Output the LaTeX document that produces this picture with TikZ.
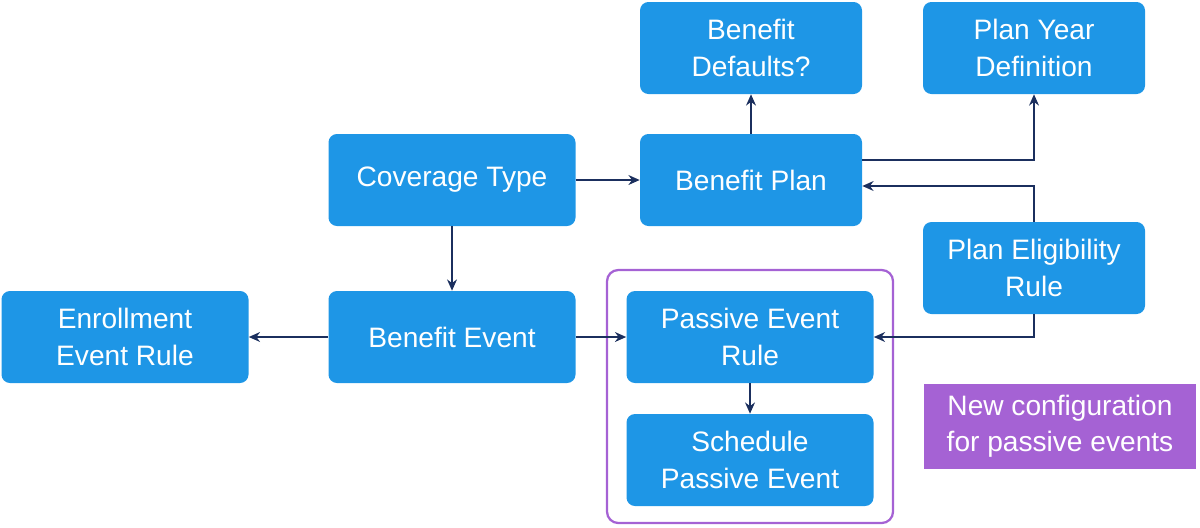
\documentclass[tikz,border=0pt]{standalone}
\usepackage{fontspec}
\setmainfont{Liberation Sans}
\usetikzlibrary{arrows.meta}
\definecolor{bx}{HTML}{1E96E6}
\definecolor{pu}{HTML}{A562D4}
\definecolor{ar}{HTML}{1B2F5E}
\begin{document}
\begin{tikzpicture}[x=0.025cm,y=-0.025cm,
 box/.style={fill=bx,rounded corners=6pt,text=white,align=center,font=\fontsize{20}{26}\selectfont,minimum height=92*0.025cm},
 sb/.style={box,minimum width=222*0.025cm},
 lb/.style={box,minimum width=247*0.025cm},
 a/.style={draw=ar,line width=1.6pt,-{Stealth[length=8pt,width=7pt]}}]
\useasboundingbox (0,0) rectangle (1200,527);
\node[sb] (bd) at (751,48) {Benefit\\Defaults?};
\node[sb] (py) at (1034,48) {Plan Year\\Definition};
\node[lb] (ct) at (452,180) {Coverage Type};
\node[sb] (bp) at (751,180) {Benefit Plan};
\node[sb] (pe) at (1034,268) {Plan Eligibility\\Rule};
\node[lb] (er) at (125,337) {Enrollment\\Event Rule};
\node[lb] (be) at (452,337) {Benefit Event};
\node[lb] (pr) at (750,337) {Passive Event\\Rule};
\node[lb] (sp) at (750,460) {Schedule\\Passive Event};
\node[draw=pu,line width=1.6pt,rounded corners=8pt,minimum width=286*0.025cm,minimum height=253*0.025cm] (grp) at (750,396.5) {};
\node[fill=pu,text=white,align=center,font=\fontsize{20}{26}\selectfont,minimum width=272*0.025cm,minimum height=85*0.025cm] (nc) at (1060,426) {New configuration\\for passive events};
\draw[a] (ct) -- (bp);
\draw[a] (ct) -- (be);
\draw[a] (be) -- (er);
\draw[a] (be) -- (pr);
\draw[a] (bp) -- (bd);
\draw[a] (pr) -- (sp);
\coordinate (c1) at (1034,160);
\draw[a] (bp.east |- c1) -- (c1) -- (py);
\coordinate (c2) at (1034,186);
\draw[a] (pe) -- (c2) -- (bp.east |- c2);
\coordinate (c3) at (1034,337);
\draw[a] (pe) -- (c3) -- (pr.east |- c3);
\end{tikzpicture}
\end{document}
